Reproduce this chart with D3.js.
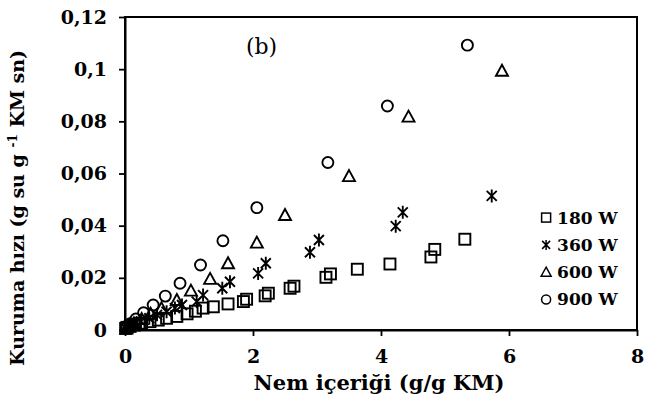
<!DOCTYPE html>
<html>
<head>
<meta charset="utf-8">
<script src="https://cdn.jsdelivr.net/npm/d3@7"></script>
<style>
  body { margin: 0; background: #fff; }
  text { font-family: "DejaVu Serif", serif; }
</style>
</head>
<body>
<svg id="chart" width="649" height="398"></svg>
<script>
// moisture content (g/g KM) vs drying rate (g su g-1 KM sn)
const s180 = [
  [5.31, 0.0348], [4.84, 0.0309], [4.78, 0.0280], [4.14, 0.0253], [3.63, 0.0233],
  [3.21, 0.0215], [3.14, 0.0202], [2.64, 0.0168], [2.58, 0.0160], [2.24, 0.0141],
  [2.19, 0.0131], [1.90, 0.0118], [1.85, 0.0109], [1.61, 0.0100], [1.38, 0.0089],
  [1.22, 0.0084], [1.10, 0.0072], [0.97, 0.0062], [0.81, 0.0052], [0.65, 0.0045],
  [0.52, 0.0038], [0.39, 0.0032], [0.26, 0.0026], [0.15, 0.0019], [0.08, 0.0014],
  [0.03, 0.0010], [0.01, 0.0006]
];
const s360 = [
  [5.73, 0.0514], [4.34, 0.0451], [4.23, 0.0398], [3.03, 0.0345], [2.89, 0.0298],
  [2.20, 0.0256], [2.08, 0.0217], [1.64, 0.0185], [1.52, 0.0160], [1.22, 0.0134],
  [1.12, 0.0109], [0.89, 0.0096], [0.78, 0.0084], [0.65, 0.0070], [0.50, 0.0058],
  [0.38, 0.0045], [0.25, 0.0033], [0.15, 0.0022], [0.07, 0.0013], [0.02, 0.0006]
];
const s600 = [
  [5.89, 0.0994], [4.43, 0.0818], [3.50, 0.0590], [2.50, 0.0441], [2.06, 0.0335],
  [1.61, 0.0256], [1.33, 0.0196], [1.03, 0.0151], [0.81, 0.0115], [0.57, 0.0083],
  [0.40, 0.0062], [0.26, 0.0042], [0.14, 0.0026], [0.06, 0.0014], [0.02, 0.0006]
];
const s900 = [
  [5.35, 0.1092], [4.10, 0.0859], [3.17, 0.0642], [2.06, 0.0469], [1.53, 0.0342],
  [1.18, 0.0249], [0.86, 0.0179], [0.63, 0.0130], [0.44, 0.0096], [0.29, 0.0066],
  [0.17, 0.0042], [0.08, 0.0024], [0.03, 0.0012]
];
const seriesNames = ["180 W", "360 W", "600 W", "900 W"];
const xTicks = [0, 2, 4, 6, 8];
const yTicks = [0, 0.02, 0.04, 0.06, 0.08, 0.1, 0.12];
const yTickLabels = ["0", "0,02", "0,04", "0,06", "0,08", "0,1", "0,12"];

const margin = { top: 17, right: 12, bottom: 68, left: 125 };
const width = 649 - margin.left - margin.right;
const height = 398 - margin.top - margin.bottom;

const svg = d3.select("#chart");
const g = svg.append("g").attr("transform", `translate(${margin.left},${margin.top})`);

const x = d3.scaleLinear().domain([0, 8]).range([0, width]);
const y = d3.scaleLinear().domain([0, 0.12]).range([height, 0]);

// frame
g.append("rect")
  .attr("width", width).attr("height", height)
  .attr("fill", "none").attr("stroke", "#000").attr("stroke-width", 2);

const xAxis = g.append("g")
  .attr("transform", `translate(0,${height})`)
  .call(d3.axisBottom(x).tickValues(xTicks).tickSize(6).tickSizeOuter(0).tickPadding(14));
const yAxis = g.append("g")
  .call(d3.axisLeft(y).tickValues(yTicks).tickSize(6).tickSizeOuter(0).tickPadding(12)
    .tickFormat((d, i) => yTickLabels[i]));

[xAxis, yAxis].forEach(a => {
  a.select(".domain").attr("stroke-width", 2);
  a.selectAll(".tick line").attr("stroke-width", 1.8);
  a.selectAll(".tick text")
    .attr("font-family", "DejaVu Serif").attr("font-weight", "bold")
    .attr("font-size", 19).attr("fill", "#000");
});

// markers
const mk = {
  square: sel => sel.append("rect").attr("x", -5.5).attr("y", -5.5).attr("width", 11).attr("height", 11),
  star: sel => sel.append("path").attr("d", "M-5,-5L5,5M-5,5L5,-5M0,-6.5L0,6.5"),
  triangle: sel => sel.append("path").attr("d", "M0,-6L6,5L-6,5Z"),
  circle: sel => sel.append("circle").attr("r", 5.5)
};
const mkSmall = {
  square: sel => sel.append("rect").attr("x", -4.5).attr("y", -4.5).attr("width", 9).attr("height", 9),
  star: sel => sel.append("path").attr("d", "M-4,-4L4,4M-4,4L4,-4M0,-5L0,5"),
  triangle: sel => sel.append("path").attr("d", "M0,-5L5,4L-5,4Z"),
  circle: sel => sel.append("circle").attr("r", 4.5)
};
const kinds = ["square", "star", "triangle", "circle"];
const allSeries = [s180, s360, s600, s900];

allSeries.forEach((data, i) => {
  const pts = g.append("g")
    .selectAll("g")
    .data(data)
    .enter()
    .append("g")
    .attr("transform", d => `translate(${x(d[0])},${y(d[1])})`);
  mk[kinds[i]](pts)
    .attr("fill", "none").attr("stroke", "#000").attr("stroke-width", 1.9);
});

// panel label
g.append("text")
  .attr("x", x(1.89)).attr("y", y(0.1058))
  .attr("font-size", 22).attr("fill", "#000")
  .text("(b)");

// legend
const legend = g.append("g")
  .attr("transform", `translate(${x(6.58)},${y(0.0431)})`);
seriesNames.forEach((name, i) => {
  const row = legend.append("g").attr("transform", `translate(0,${i * 27.3})`);
  mkSmall[kinds[i]](row)
    .attr("fill", "none").attr("stroke", "#000").attr("stroke-width", 1.5);
  row.append("text")
    .attr("x", 11).attr("dy", "0.35em")
    .attr("font-weight", "bold").attr("font-size", 17).attr("fill", "#000")
    .text(name);
});

// axis titles
svg.append("text")
  .attr("x", margin.left + x(3.97)).attr("y", 390)
  .attr("text-anchor", "middle")
  .attr("font-weight", "bold").attr("font-size", 21).attr("fill", "#000")
  .text("Nem içeriği (g/g KM)");

const yt = svg.append("text")
  .attr("transform", `translate(24,${margin.top + y(0.0468)}) rotate(-90)`)
  .attr("text-anchor", "middle")
  .attr("font-weight", "bold").attr("font-size", 19).attr("fill", "#000");
yt.append("tspan").text("Kuruma hızı (g su g ");
yt.append("tspan").attr("font-size", 12).attr("baseline-shift", "super").text("-1");
yt.append("tspan").text(" KM sn)");
</script>
</body>
</html>
